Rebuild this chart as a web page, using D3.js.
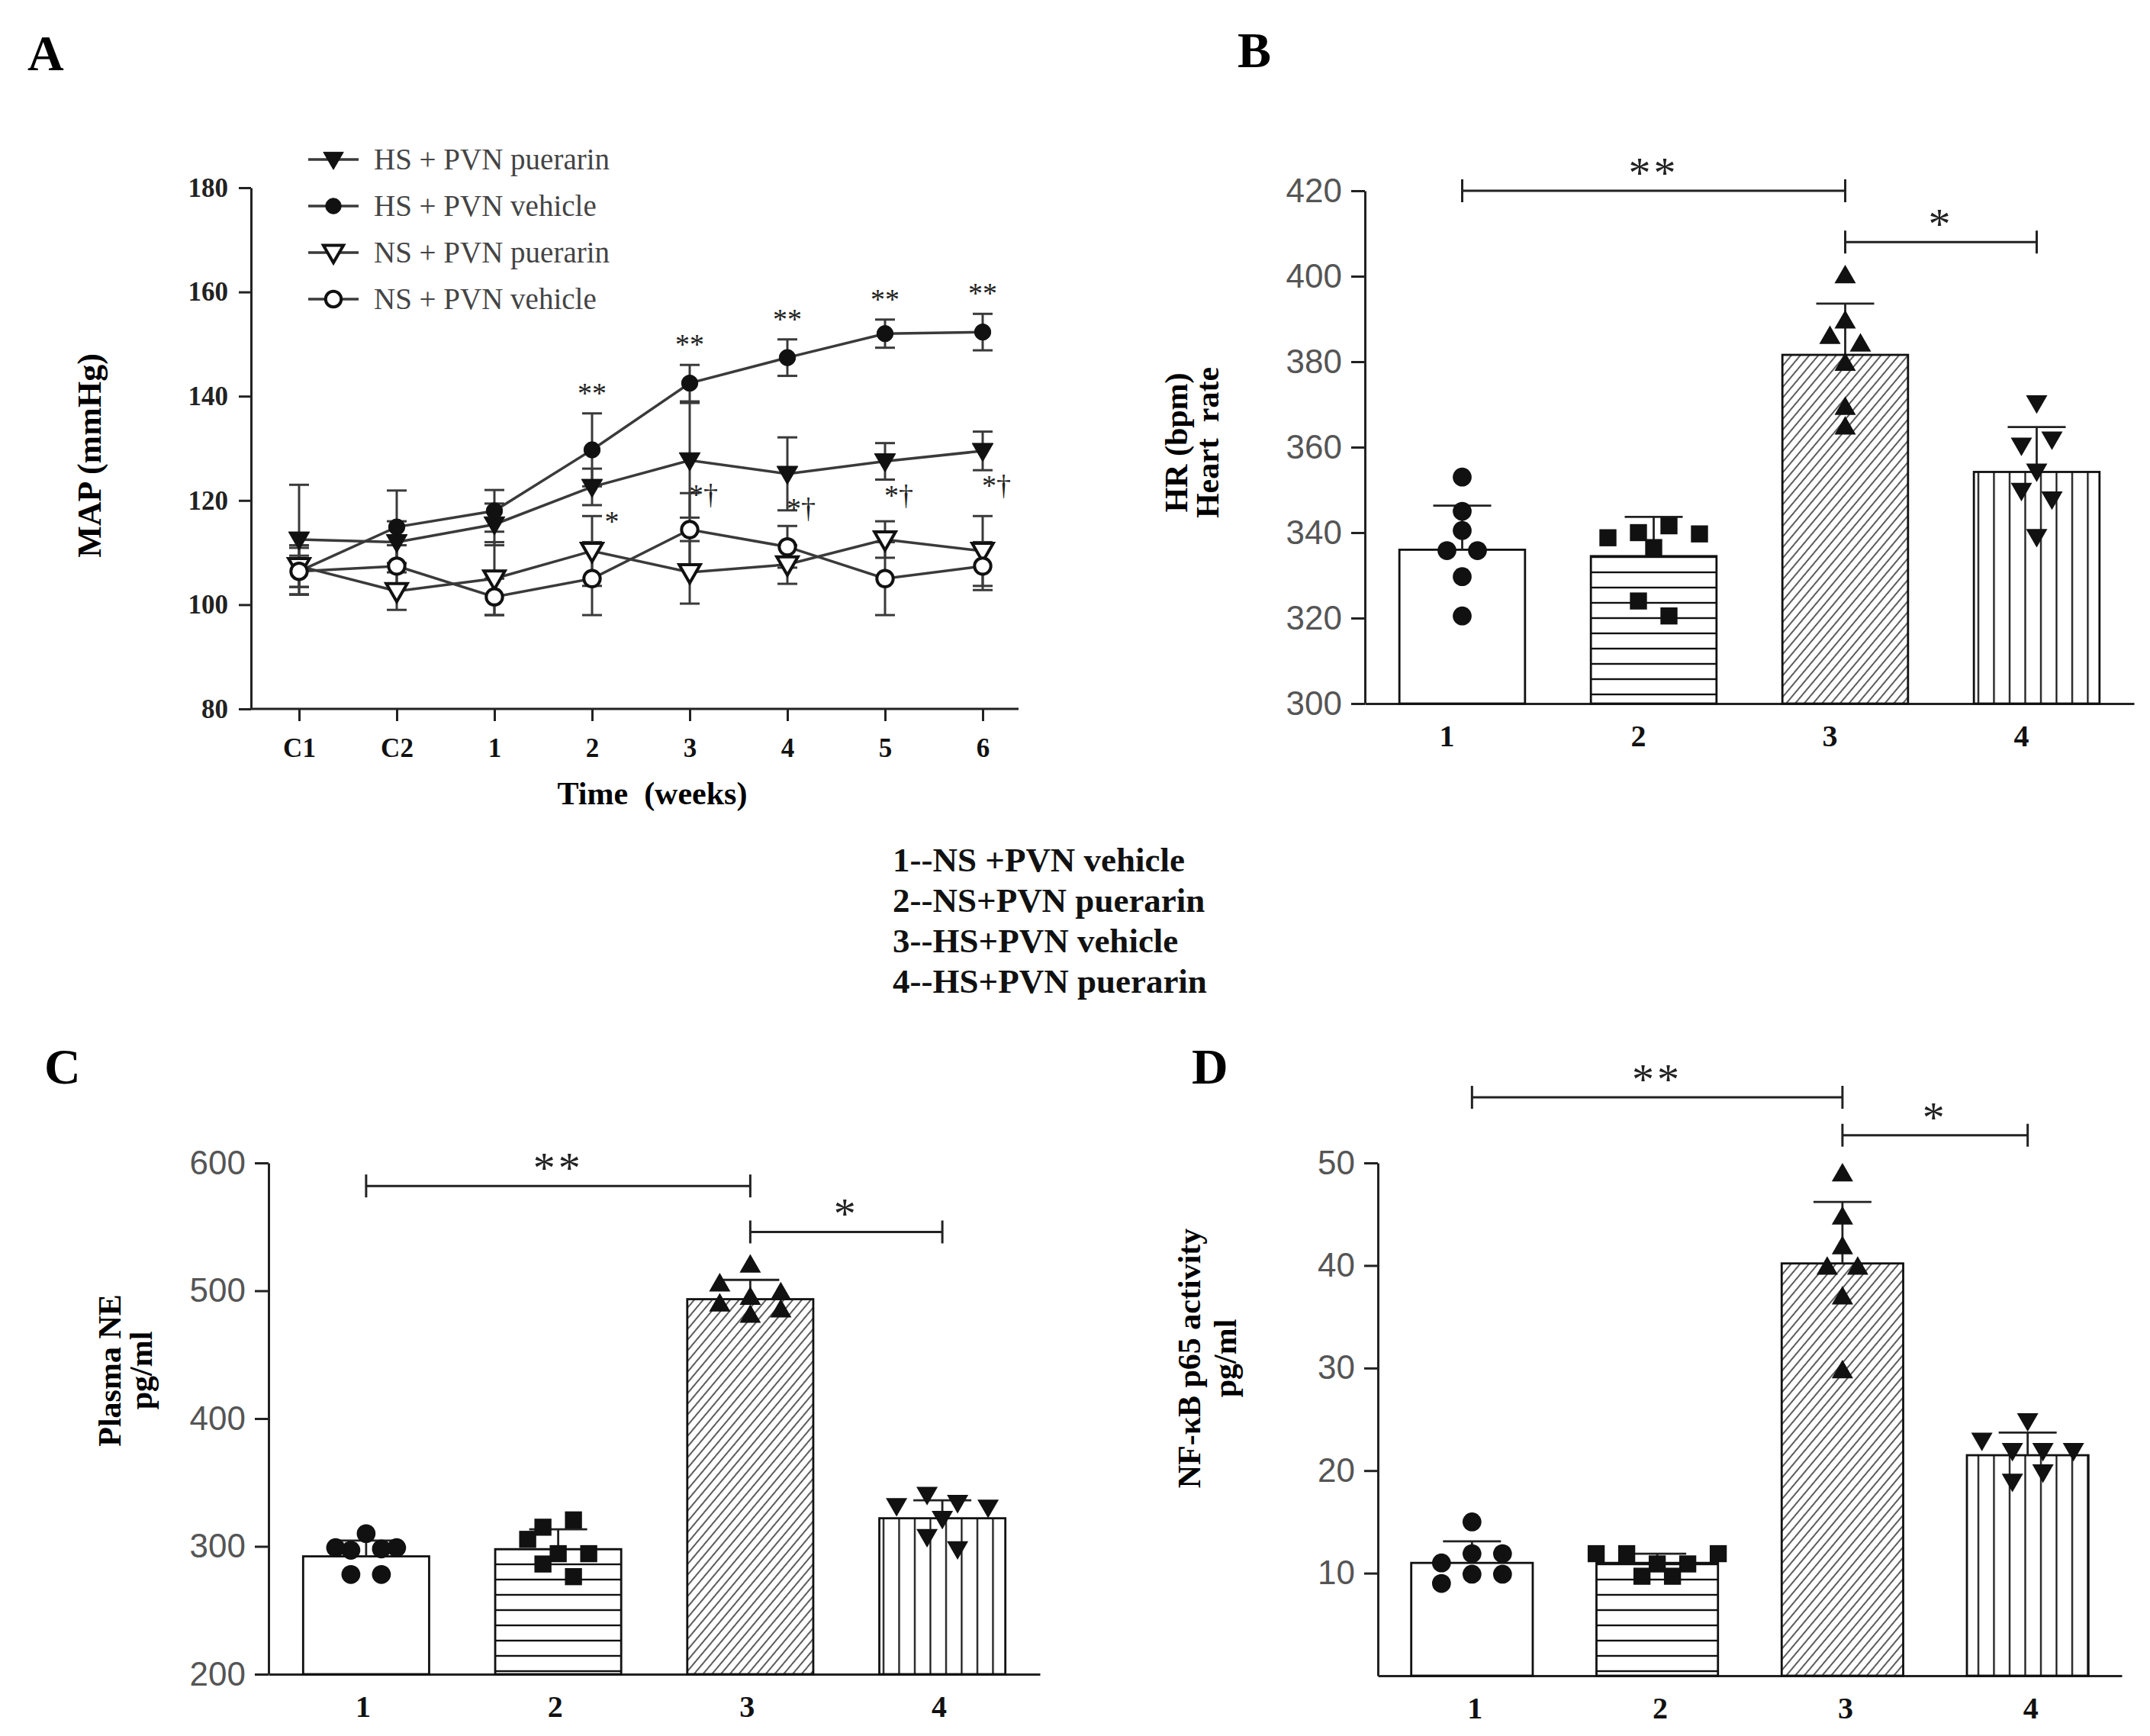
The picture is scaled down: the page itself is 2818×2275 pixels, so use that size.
<!DOCTYPE html>
<html>
<head>
<meta charset="utf-8">
<script src="https://cdn.jsdelivr.net/npm/d3@7"></script>
<style>
  body { margin: 0; background: #fff; }
  svg { display: block; font-family: "Liberation Serif", "Times New Roman", serif; }
</style>
</head>
<body>
<svg id="fig" width="2818" height="2275"></svg>
<script>
// ---------- data: panel A (MAP over time) ----------
const weeks = ["C1", "C2", "1", "2", "3", "4", "5", "6"];
const mapTicks = [80, 100, 120, 140, 160, 180];
const hsPuerarin   = [112.5, 112.0, 115.4, 122.6, 127.7, 125.1, 127.5, 129.5];
const hsPuerarinSd = [10.5, 4.0, 4.0, 3.5, 11.0, 7.0, 3.5, 3.7];
const hsVehicle    = [106.4, 114.9, 118.0, 129.7, 142.5, 147.4, 152.0, 152.3];
const hsVehicleSd  = [3.0, 7.0, 4.0, 7.0, 3.5, 3.5, 2.7, 3.5];
const nsPuerarin   = [107.4, 102.6, 105.0, 110.3, 106.2, 107.7, 112.5, 110.3];
const nsPuerarinSd = [4.0, 3.6, 7.0, 6.7, 6.0, 3.7, 3.5, 6.7];
const nsVehicle    = [106.4, 107.4, 101.5, 105.0, 114.4, 111.1, 105.0, 107.4];
const nsVehicleSd  = [4.5, 4.0, 3.5, 7.0, 7.0, 4.0, 7.0, 4.6];
const starsVehicle = ["", "", "", "**", "**", "**", "**", "**"];
const starsPuerarin = ["", "", "", "*", "*\u2020", "*\u2020", "*\u2020", "*\u2020"];
const legendA = ["HS + PVN puerarin", "HS + PVN vehicle", "NS + PVN puerarin", "NS + PVN vehicle"];

// ---------- data: bar panels ----------
const groups = ["1", "2", "3", "4"];
const groupNames = ["1--NS +PVN vehicle", "2--NS+PVN puerarin", "3--HS+PVN vehicle", "4--HS+PVN puerarin"];

const hrTicks = [300, 320, 340, 360, 380, 400, 420];
const hrMean = [336.0, 334.5, 381.6, 354.2];
const hrSd = [10.3, 9.2, 12.0, 10.5];
const hrPoints = [
  [353, 345, 340.5, 335.8, 335.8, 329.7, 320.5],
  [338.8, 340, 336.5, 341.6, 339.7, 324, 320.5],
  [399.8, 389.2, 385.6, 383.8, 379.3, 369, 364.4],
  [370.7, 360.8, 362.2, 354.7, 350.2, 348.2, 339.4]
];
const hrBrackets = [{from: "1", to: "3", at: 420, label: "**"}, {from: "3", to: "4", at: 408, label: "*"}];

const neTicks = [200, 300, 400, 500, 600];
const neMean = [292.2, 297.8, 493.4, 322.0];
const neSd = [12.4, 15.5, 15.1, 14.0];
const nePoints = [
  [297, 299, 310, 299, 298, 278, 278],
  [315, 320.7, 305.5, 294.3, 294.3, 286.2, 276.3],
  [519, 504.3, 493.8, 497.3, 488.5, 479.7, 484],
  [333, 341.7, 335.4, 323, 331.8, 308.8, 299.2]
];
const neBrackets = [{from: "1", to: "3", at: 582, label: "**"}, {from: "3", to: "4", at: 546, label: "*"}];

const nfTicks = [10, 20, 30, 40, 50];
const nfMean = [11.0, 11.0, 40.2, 21.5];
const nfSd = [2.1, 0.9, 6.0, 2.2];
const nfPoints = [
  [15.0, 11.0, 11.9, 11.9, 9.0, 9.9, 9.9],
  [11.9, 11.9, 10.9, 10.9, 11.9, 9.7, 9.7],
  [48.8, 44.6, 41.7, 39.7, 39.7, 36.8, 29.6],
  [25.0, 23.1, 22.1, 22.1, 22.1, 19.1, 20.0]
];
const nfBrackets = [{from: "1", to: "3", at: 56.4, label: "**"}, {from: "3", to: "4", at: 52.7, label: "*"}];

// ---------- drawing ----------
const svg = d3.select("#fig");
svg.append("rect").attr("width", 2818).attr("height", 2275).attr("fill", "#fff");

const defs = svg.append("defs");
const pH = defs.append("pattern").attr("id", "hatchH").attr("patternUnits", "userSpaceOnUse")
  .attr("width", 20).attr("height", 20);
pH.append("rect").attr("width", 20).attr("height", 20).attr("fill", "#fff");
pH.append("line").attr("x1", 0).attr("x2", 20).attr("y1", 10).attr("y2", 10).attr("stroke", "#111").attr("stroke-width", 2.4);
const pD = defs.append("pattern").attr("id", "hatchD").attr("patternUnits", "userSpaceOnUse")
  .attr("width", 9).attr("height", 9).attr("patternTransform", "rotate(40)");
pD.append("rect").attr("width", 9).attr("height", 9).attr("fill", "#fff");
pD.append("line").attr("x1", 1).attr("x2", 1).attr("y1", 0).attr("y2", 9).attr("stroke", "#333").attr("stroke-width", 1.6);
const pV = defs.append("pattern").attr("id", "hatchV").attr("patternUnits", "userSpaceOnUse")
  .attr("width", 20.5).attr("height", 20);
pV.append("rect").attr("width", 20.5).attr("height", 20).attr("fill", "#fff");
pV.append("line").attr("x1", 10).attr("x2", 10).attr("y1", 0).attr("y2", 20).attr("stroke", "#111").attr("stroke-width", 2.2);

const fills = ["#fff", "url(#hatchH)", "url(#hatchD)", "url(#hatchV)"];
const shapes = [
  {type: d3.symbolCircle, size: 480, rot: 0},
  {type: d3.symbolSquare, size: 500, rot: 0},
  {type: d3.symbolTriangle, size: 340, rot: 0},
  {type: d3.symbolTriangle, size: 340, rot: 180}
];

function panelLetter(txt, x, y) {
  svg.append("text").attr("x", x).attr("y", y).attr("font-size", 66).attr("font-weight", "bold").text(txt);
}

function styleAxis(g) {
  g.select(".domain").attr("stroke", "#222").attr("stroke-width", 3);
  g.selectAll(".tick line").attr("stroke", "#222").attr("stroke-width", 3);
}

// ---- panel A ----
panelLetter("A", 36, 92);
const axA = {left: 329, right: 1335};
const xA = d3.scalePoint().domain(weeks).range([392, 1288]);
const yA = d3.scaleLinear().domain([80, 180]).range([929, 246]);

svg.append("g").attr("transform", `translate(${axA.left},0)`)
  .call(d3.axisLeft(yA).tickValues(mapTicks).tickSize(16).tickSizeOuter(0).tickPadding(14))
  .call(styleAxis)
  .call(g => g.selectAll(".tick text").attr("font-family", "Liberation Serif").attr("font-size", 35)
    .attr("font-weight", "bold").attr("fill", "#222"));
svg.append("g").attr("transform", "translate(0,929)")
  .call(d3.axisBottom(xA).tickSize(16).tickSizeOuter(0).tickPadding(22))
  .call(styleAxis)
  .call(g => g.select(".domain").attr("d", `M${axA.left},0H${axA.right}`))
  .call(g => g.selectAll(".tick text").attr("font-family", "Liberation Serif").attr("font-size", 35)
    .attr("font-weight", "bold").attr("fill", "#111"));

svg.append("text").attr("x", 855).attr("y", 1054).attr("text-anchor", "middle")
  .attr("font-size", 42).attr("font-weight", "bold").style("white-space", "pre").text("Time  (weeks)");
svg.append("text").attr("transform", "translate(132,597) rotate(-90)").attr("text-anchor", "middle")
  .attr("font-size", 44).attr("font-weight", "bold").text("MAP (mmHg)");

const seriesA = [
  {vals: hsPuerarin, sd: hsPuerarinSd, sym: d3.symbolTriangle, rot: 180, filled: true},
  {vals: hsVehicle, sd: hsVehicleSd, sym: d3.symbolCircle, rot: 0, filled: true},
  {vals: nsPuerarin, sd: nsPuerarinSd, sym: d3.symbolTriangle, rot: 180, filled: false},
  {vals: nsVehicle, sd: nsVehicleSd, sym: d3.symbolCircle, rot: 0, filled: false}
];
const lineA = d3.line().x((d, i) => xA(weeks[i])).y(d => yA(d));
const gA = svg.append("g");
seriesA.forEach(s => {
  gA.append("path").datum(s.vals).attr("d", lineA).attr("fill", "none")
    .attr("stroke", "#3a3a3a").attr("stroke-width", 3.5);
  const eb = gA.append("g").selectAll("g").data(s.vals).join("g")
    .attr("stroke", "#3a3a3a").attr("stroke-width", 3);
  eb.append("line").attr("x1", (d, i) => xA(weeks[i])).attr("x2", (d, i) => xA(weeks[i]))
    .attr("y1", (d, i) => yA(d + s.sd[i])).attr("y2", (d, i) => yA(d - s.sd[i]));
  eb.append("line").attr("x1", (d, i) => xA(weeks[i]) - 13).attr("x2", (d, i) => xA(weeks[i]) + 13)
    .attr("y1", (d, i) => yA(d + s.sd[i])).attr("y2", (d, i) => yA(d + s.sd[i]));
  eb.append("line").attr("x1", (d, i) => xA(weeks[i]) - 13).attr("x2", (d, i) => xA(weeks[i]) + 13)
    .attr("y1", (d, i) => yA(d - s.sd[i])).attr("y2", (d, i) => yA(d - s.sd[i]));
});
seriesA.forEach(s => {
  gA.append("g").selectAll("path").data(s.vals).join("path")
    .attr("d", d3.symbol().type(s.sym).size(s.sym === d3.symbolCircle ? 360 : 330))
    .attr("transform", (d, i) => `translate(${xA(weeks[i])},${yA(d) + (s.rot ? -2 : 0)}) rotate(${s.rot})`)
    .attr("fill", s.filled ? "#111" : "#fff").attr("stroke", "#111").attr("stroke-width", s.filled ? 1 : 4);
});
// significance marks
gA.append("g").selectAll("text").data(starsVehicle).join("text")
  .attr("x", (d, i) => xA(weeks[i])).attr("y", (d, i) => yA(hsVehicle[i] + hsVehicleSd[i]) - 14)
  .attr("text-anchor", "middle").attr("font-size", 38).attr("fill", "#222").text(d => d);
gA.append("g").selectAll("text").data(starsPuerarin).join("text")
  .attr("x", (d, i) => xA(weeks[i]) + (d.length > 1 ? 18 : 26)).attr("y", (d, i) => yA(hsPuerarin[i] - 7) + 10)
  .attr("text-anchor", "middle").attr("font-size", 38).attr("fill", "#222").text(d => d);

// legend A
const legA = svg.append("g").selectAll("g").data(seriesA).join("g")
  .attr("transform", (d, i) => `translate(404,${209 + i * 61})`);
legA.append("line").attr("x1", 0).attr("x2", 66).attr("stroke", "#3a3a3a").attr("stroke-width", 3.5);
legA.append("path")
  .attr("d", d => d3.symbol().type(d.sym).size(d.sym === d3.symbolCircle ? 330 : 300)())
  .attr("transform", d => `translate(33,${d.rot ? -2 : 0}) rotate(${d.rot})`)
  .attr("fill", d => d.filled ? "#111" : "#fff").attr("stroke", "#111").attr("stroke-width", d => d.filled ? 1 : 4);
legA.append("text").attr("x", 86).attr("y", 13).attr("font-size", 39).attr("fill", "#444")
  .text((d, i) => legendA[i]);

// ---- group legend in the middle ----
svg.append("g").selectAll("text").data(groupNames).join("text")
  .attr("x", 1170).attr("y", (d, i) => 1142 + i * 53)
  .attr("font-size", 45).attr("font-weight", "bold").attr("fill", "#111").text(d => d);

// ---- bar panel helper ----
// points closer than minGap (px) share a row and are spread sideways
function swarm(vals, y, minGap, gap) {
  const items = vals.map((v, i) => ({i, y: y(v)}));
  const order = items.slice().sort((a, b) => a.y - b.y);
  const rows = [];
  order.forEach(p => {
    const row = rows[rows.length - 1];
    if (row && Math.abs(p.y - row[0].y) < minGap) row.push(p); else rows.push([p]);
  });
  rows.forEach(row => {
    row.sort((a, b) => a.i - b.i);
    row.forEach((p, k) => { p.dx = (k - (row.length - 1) / 2) * gap; });
  });
  return items;
}

function barPanel(cfg) {
  const g = svg.append("g");
  const x = d3.scaleBand().domain(groups).range([cfg.x0, cfg.x1]).paddingInner(0.344).paddingOuter(0.18);
  const y = d3.scaleLinear().domain(cfg.domain).range([cfg.yBottom, cfg.yTop]);
  const cx = k => x(k) + x.bandwidth() / 2;

  g.append("g").attr("transform", `translate(${cfg.x0},0)`)
    .call(d3.axisLeft(y).tickValues(cfg.ticks).tickSize(18).tickSizeOuter(0).tickPadding(12))
    .call(styleAxis)
    .call(g2 => g2.selectAll(".tick text").attr("font-family", "Liberation Sans").attr("font-size", 44)
      .attr("fill", "#555"));
  g.append("g").attr("transform", `translate(0,${cfg.yBottom})`)
    .call(d3.axisBottom(x).tickSize(0).tickSizeOuter(0).tickPadding(28))
    .call(styleAxis)
    .call(g2 => g2.selectAll(".tick text").attr("font-family", "Liberation Serif").attr("font-size", 40)
      .attr("font-weight", "bold").attr("fill", "#111").attr("dx", cfg.labelShift));

  // bars
  g.append("g").selectAll("rect").data(cfg.means).join("rect")
    .attr("x", (d, i) => x(groups[i])).attr("width", x.bandwidth())
    .attr("y", d => y(d)).attr("height", d => cfg.yBottom - y(d))
    .attr("fill", (d, i) => fills[i]).attr("stroke", "#111").attr("stroke-width", 2.8);

  // error bars (upper)
  const eb = g.append("g").attr("stroke", "#222").attr("stroke-width", 2.8)
    .selectAll("g").data(cfg.means).join("g");
  eb.append("line").attr("x1", (d, i) => cx(groups[i])).attr("x2", (d, i) => cx(groups[i]))
    .attr("y1", d => y(d)).attr("y2", (d, i) => y(d + cfg.sds[i]));
  eb.append("line").attr("x1", (d, i) => cx(groups[i]) - 38).attr("x2", (d, i) => cx(groups[i]) + 38)
    .attr("y1", (d, i) => y(d + cfg.sds[i])).attr("y2", (d, i) => y(d + cfg.sds[i]));

  // points
  cfg.points.forEach((vals, gi) => {
    const sh = shapes[gi];
    const pos = swarm(vals, y, 20, 40);
    g.append("g").selectAll("path").data(pos).join("path")
      .attr("d", d3.symbol().type(sh.type).size(sh.size))
      .attr("transform", d => `translate(${cx(groups[gi]) + d.dx},${d.y}) rotate(${sh.rot})`)
      .attr("fill", "#111");
  });

  // brackets
  const br = g.append("g").attr("stroke", "#222").attr("stroke-width", 3)
    .selectAll("g").data(cfg.brackets).join("g");
  br.append("line").attr("x1", d => cx(d.from)).attr("x2", d => cx(d.to))
    .attr("y1", d => y(d.at)).attr("y2", d => y(d.at));
  br.append("line").attr("x1", d => cx(d.from)).attr("x2", d => cx(d.from))
    .attr("y1", d => y(d.at) - 15).attr("y2", d => y(d.at) + 15);
  br.append("line").attr("x1", d => cx(d.to)).attr("x2", d => cx(d.to))
    .attr("y1", d => y(d.at) - 15).attr("y2", d => y(d.at) + 15);
  g.append("g").selectAll("text").data(cfg.brackets).join("text")
    .attr("x", d => (cx(d.from) + cx(d.to)) / 2).attr("y", d => y(d.at) - 4)
    .attr("text-anchor", "middle").attr("font-size", 58).attr("letter-spacing", 4)
    .attr("fill", "#222").text(d => d.label);

  // y label (two lines)
  cfg.ylabel.forEach((t, i) => {
    g.append("text").attr("transform", `translate(${cfg.ylabelX[i]},${cfg.ylabelY}) rotate(-90)`)
      .attr("text-anchor", "middle").attr("font-size", 42).attr("font-weight", "bold")
      .style("white-space", "pre").text(t);
  });
}

// ---- panel B ----
panelLetter("B", 1622, 88);
barPanel({x0: 1789, x1: 2797, yTop: 250, yBottom: 922, domain: [300, 420], ticks: hrTicks,
  means: hrMean, sds: hrSd, points: hrPoints, brackets: hrBrackets, labelShift: -20,
  ylabel: ["HR (bpm)", "Heart  rate"], ylabelX: [1556, 1597], ylabelY: 580});

// ---- panel C ----
panelLetter("C", 58, 1420);
barPanel({x0: 352, x1: 1363, yTop: 1524, yBottom: 2194, domain: [200, 600], ticks: neTicks,
  means: neMean, sds: neSd, points: nePoints, brackets: neBrackets, labelShift: -4,
  ylabel: ["Plasma NE", "pg/ml"], ylabelX: [158, 199], ylabelY: 1796});

// ---- panel D ----
panelLetter("D", 1562, 1420);
barPanel({x0: 1806, x1: 2781, yTop: 1524, yBottom: 2196, domain: [0, 50], ticks: nfTicks,
  means: nfMean, sds: nfSd, points: nfPoints, brackets: nfBrackets, labelShift: 4,
  ylabel: ["NF-\u03baB p65 activity", "pg/ml"], ylabelX: [1573, 1620], ylabelY: 1780});
</script>
</body>
</html>
